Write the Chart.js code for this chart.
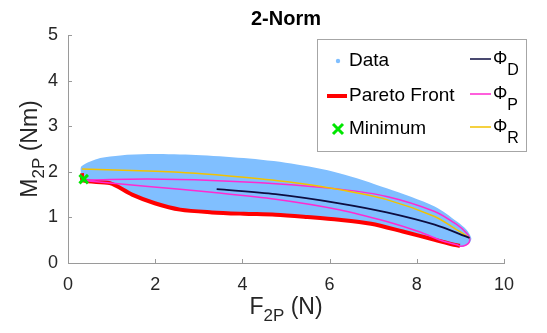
<!DOCTYPE html>
<html>
<head>
<meta charset="utf-8">
<script src="https://cdn.jsdelivr.net/npm/chart.js@4.4.0/dist/chart.umd.min.js"></script>
<style>
  html, body { margin: 0; padding: 0; background: #fff; }
  #wrap { width: 547px; height: 333px; }
</style>
</head>
<body>
<div id="wrap"><canvas id="chart"></canvas></div>
<script>
// axis ticks
const xTicks = [0, 2, 4, 6, 8, 10];
const yTicks = [0, 1, 2, 3, 4, 5];

// outline of the data cloud: left edge, upper edge to the tip, then back along the bottom
const cloudX = [0.34, 0.30, 0.31, 0.74, 1.20, 1.84, 2.93, 4.03, 5.12, 6.22, 7.31, 8.41, 8.92, 9.14, 9.25, 9.22, 9.14, 8.99,
                8.41, 7.68, 6.95, 6.22, 5.49, 4.76, 4.03, 3.30, 2.57, 1.99, 1.47, 0.96, 0.34];
const cloudY = [1.79, 1.95, 2.12, 2.30, 2.36, 2.39, 2.37, 2.30, 2.18, 1.97, 1.64, 1.24, 0.91, 0.73, 0.55, 0.45, 0.39, 0.35,
                0.49, 0.67, 0.84, 0.93, 0.99, 1.04, 1.06, 1.09, 1.15, 1.29, 1.48, 1.73, 1.79];

// Pareto front
const paretoX = [0.32, 0.34, 0.96, 1.47, 1.99, 2.57, 3.30, 4.03, 4.76, 5.49, 6.22, 6.95, 7.68, 8.41, 8.85, 8.99];
const paretoY = [1.97, 1.81, 1.75, 1.50, 1.31, 1.17, 1.11, 1.08, 1.06, 1.01, 0.95, 0.86, 0.69, 0.51, 0.40, 0.38];

// Phi_D
const phiDX = [3.41, 4.76, 6.22, 7.31, 8.41, 9.21];
const phiDY = [1.62, 1.51, 1.31, 1.11, 0.84, 0.55];

// Phi_P (upper branch to the tip, round it, lower branch back)
const phiPX = [0.34, 1.84, 3.30, 4.76, 6.22, 7.31, 8.41, 8.92, 9.14, 9.21, 9.20, 9.12, 9.00,
               8.92, 8.63, 8.04, 7.31, 6.22, 4.76, 3.30, 1.84, 0.34];
const phiPY = [1.82, 1.84, 1.81, 1.74, 1.62, 1.46, 1.13, 0.84, 0.66, 0.55, 0.45, 0.39, 0.37,
               0.40, 0.47, 0.69, 0.91, 1.17, 1.40, 1.55, 1.68, 1.81];

// Phi_R
const phiRX = [0.32, 1.84, 2.93, 4.03, 5.12, 6.22, 7.31, 8.41, 8.85, 9.21];
const phiRY = [2.06, 2.02, 1.97, 1.88, 1.77, 1.61, 1.39, 1.02, 0.77, 0.55];

// minimum
const minX = [0.36];
const minY = [1.84];

const fontFam = '"Liberation Sans", Arial, Helvetica, sans-serif';
const pts = (xs, ys) => xs.map((x, i) => ({ x: x, y: ys[i] }));

// draw a run of text pieces (for subscripts)
function pieceWidth(ctx, parts) {
  let w = 0;
  parts.forEach(p => { ctx.font = (p.bold ? 'bold ' : '') + p.size + 'px ' + fontFam; w += ctx.measureText(p.t).width; });
  return w;
}
function drawPieces(ctx, parts, x, y) {
  let cx = x;
  parts.forEach(p => {
    ctx.font = (p.bold ? 'bold ' : '') + p.size + 'px ' + fontFam;
    ctx.fillText(p.t, cx, y + (p.dy || 0));
    cx += ctx.measureText(p.t).width;
  });
}

const decor = {
  id: 'decor',
  afterDraw(chart) {
    const ctx = chart.ctx;
    const xs = chart.scales.x, ys = chart.scales.y;
    const a = chart.chartArea;
    ctx.save();

    // inward tick marks
    ctx.strokeStyle = '#9a9a9a';
    ctx.lineWidth = 1;
    ctx.beginPath();
    xTicks.forEach(v => {
      const p = Math.round(xs.getPixelForValue(v)) + 0.5;
      ctx.moveTo(p, a.bottom); ctx.lineTo(p, a.bottom - 4);
    });
    yTicks.forEach(v => {
      const p = Math.round(ys.getPixelForValue(v)) + 0.5;
      ctx.moveTo(a.left, p); ctx.lineTo(a.left + 4, p);
    });
    ctx.stroke();

    // title
    ctx.fillStyle = '#000';
    ctx.textBaseline = 'middle';
    ctx.textAlign = 'center';
    ctx.font = 'bold 20px ' + fontFam;
    ctx.fillText('2-Norm', (a.left + a.right) / 2, 19);

    // axis labels with subscripts
    ctx.textAlign = 'left';
    ctx.textBaseline = 'alphabetic';
    ctx.fillStyle = '#262626';
    const xl = [{ t: 'F', size: 23 }, { t: '2P', size: 17, dy: 7 }, { t: ' (N)', size: 23 }];
    const xw = pieceWidth(ctx, xl);
    drawPieces(ctx, xl, (a.left + a.right) / 2 - xw / 2, 314);

    const yl = [{ t: 'M', size: 23 }, { t: '2P', size: 17, dy: 7 }, { t: ' (Nm)', size: 23 }];
    const yw = pieceWidth(ctx, yl);
    ctx.save();
    ctx.translate(37, (a.top + a.bottom) / 2);
    ctx.rotate(-Math.PI / 2);
    drawPieces(ctx, yl, -yw / 2, 0);
    ctx.restore();

    // legend box
    const L = 317, T = 39, R = 526, B = 151;
    ctx.fillStyle = '#fff';
    ctx.fillRect(L, T, R - L, B - T);
    ctx.strokeStyle = '#a6a6a6';
    ctx.lineWidth = 1;
    ctx.strokeRect(L + 0.5, T + 0.5, R - L, B - T);

    const rows = [61, 96, 129];
    ctx.textBaseline = 'middle';
    // Data
    ctx.fillStyle = '#80bfff';
    ctx.beginPath(); ctx.arc(338, rows[0], 2.2, 0, Math.PI * 2); ctx.fill();
    // Pareto front
    ctx.strokeStyle = '#ff0000'; ctx.lineWidth = 4;
    ctx.beginPath(); ctx.moveTo(327, rows[1]); ctx.lineTo(347, rows[1]); ctx.stroke();
    // Minimum
    ctx.strokeStyle = '#00e600'; ctx.lineWidth = 3;
    ctx.beginPath();
    ctx.moveTo(333, rows[2] - 5); ctx.lineTo(343, rows[2] + 5);
    ctx.moveTo(343, rows[2] - 5); ctx.lineTo(333, rows[2] + 5);
    ctx.stroke();
    ctx.fillStyle = '#000';
    ctx.font = '19px ' + fontFam;
    ctx.fillText('Data', 349, rows[0]);
    ctx.fillText('Pareto Front', 349, rows[1]);
    ctx.fillText('Minimum', 349, rows[2]);

    // Phi entries
    const phi = [['D', '#0d0d40'], ['P', '#ff2ad0'], ['R', '#f2c200']];
    phi.forEach((p, i) => {
      const y = rows[i] - 2;
      ctx.strokeStyle = p[1]; ctx.lineWidth = 1.5;
      ctx.beginPath(); ctx.moveTo(470, y); ctx.lineTo(491, y); ctx.stroke();
      ctx.fillStyle = '#000';
      ctx.textBaseline = 'alphabetic';
      drawPieces(ctx, [{ t: '\u03A6', size: 18 }, { t: p[0], size: 16, dy: 11 }], 493, y + 5);
      ctx.textBaseline = 'middle';
    });

    ctx.restore();
  }
};

const lineDs = (xs, ys, color, width, order) => ({
  data: pts(xs, ys),
  showLine: true,
  borderColor: color,
  borderWidth: width,
  pointRadius: 0,
  tension: 0.3,
  fill: false,
  order: order
});

new Chart(document.getElementById('chart'), {
  type: 'scatter',
  data: {
    datasets: [
      {
        data: pts(cloudX, cloudY),
        showLine: true,
        borderWidth: 0,
        borderColor: 'rgba(0,0,0,0)',
        backgroundColor: '#80bfff',
        pointRadius: 0,
        tension: 0.3,
        fill: 'shape',
        order: 10
      },
      lineDs(paretoX, paretoY, '#ff0000', 4, 6),
      lineDs(phiPX, phiPY, '#ff2ad0', 1.5, 5),
      lineDs(phiRX, phiRY, '#f2c200', 1.5, 4),
      lineDs(phiDX, phiDY, '#0d0d40', 1.8, 3),
      {
        data: pts(minX, minY),
        pointStyle: 'crossRot',
        pointRadius: 6,
        pointBorderWidth: 3,
        borderColor: '#00e600',
        backgroundColor: '#00e600',
        order: 1
      }
    ]
  },
  options: {
    responsive: true,
    maintainAspectRatio: false,
    animation: false,
    layout: { padding: { top: 35, right: 43, left: 0, bottom: 0 } },
    plugins: { legend: { display: false }, tooltip: { enabled: false } },
    scales: {
      x: {
        type: 'linear', min: 0, max: 10,
        afterBuildTicks: s => { s.ticks = xTicks.map(v => ({ value: v })); },
        afterFit: s => { s.height = 70; },
        grid: { display: false, drawTicks: false },
        border: { display: true, color: '#9a9a9a', width: 1 },
        ticks: { padding: 11, color: '#262626', font: { family: fontFam, size: 18 }, maxRotation: 0 }
      },
      y: {
        type: 'linear', min: 0, max: 5,
        afterBuildTicks: s => { s.ticks = yTicks.map(v => ({ value: v })); },
        afterFit: s => { s.width = 68; },
        grid: { display: false, drawTicks: false },
        border: { display: true, color: '#9a9a9a', width: 1 },
        ticks: { padding: 10, color: '#262626', font: { family: fontFam, size: 18 } }
      }
    }
  },
  plugins: [decor]
});
</script>
</body>
</html>
